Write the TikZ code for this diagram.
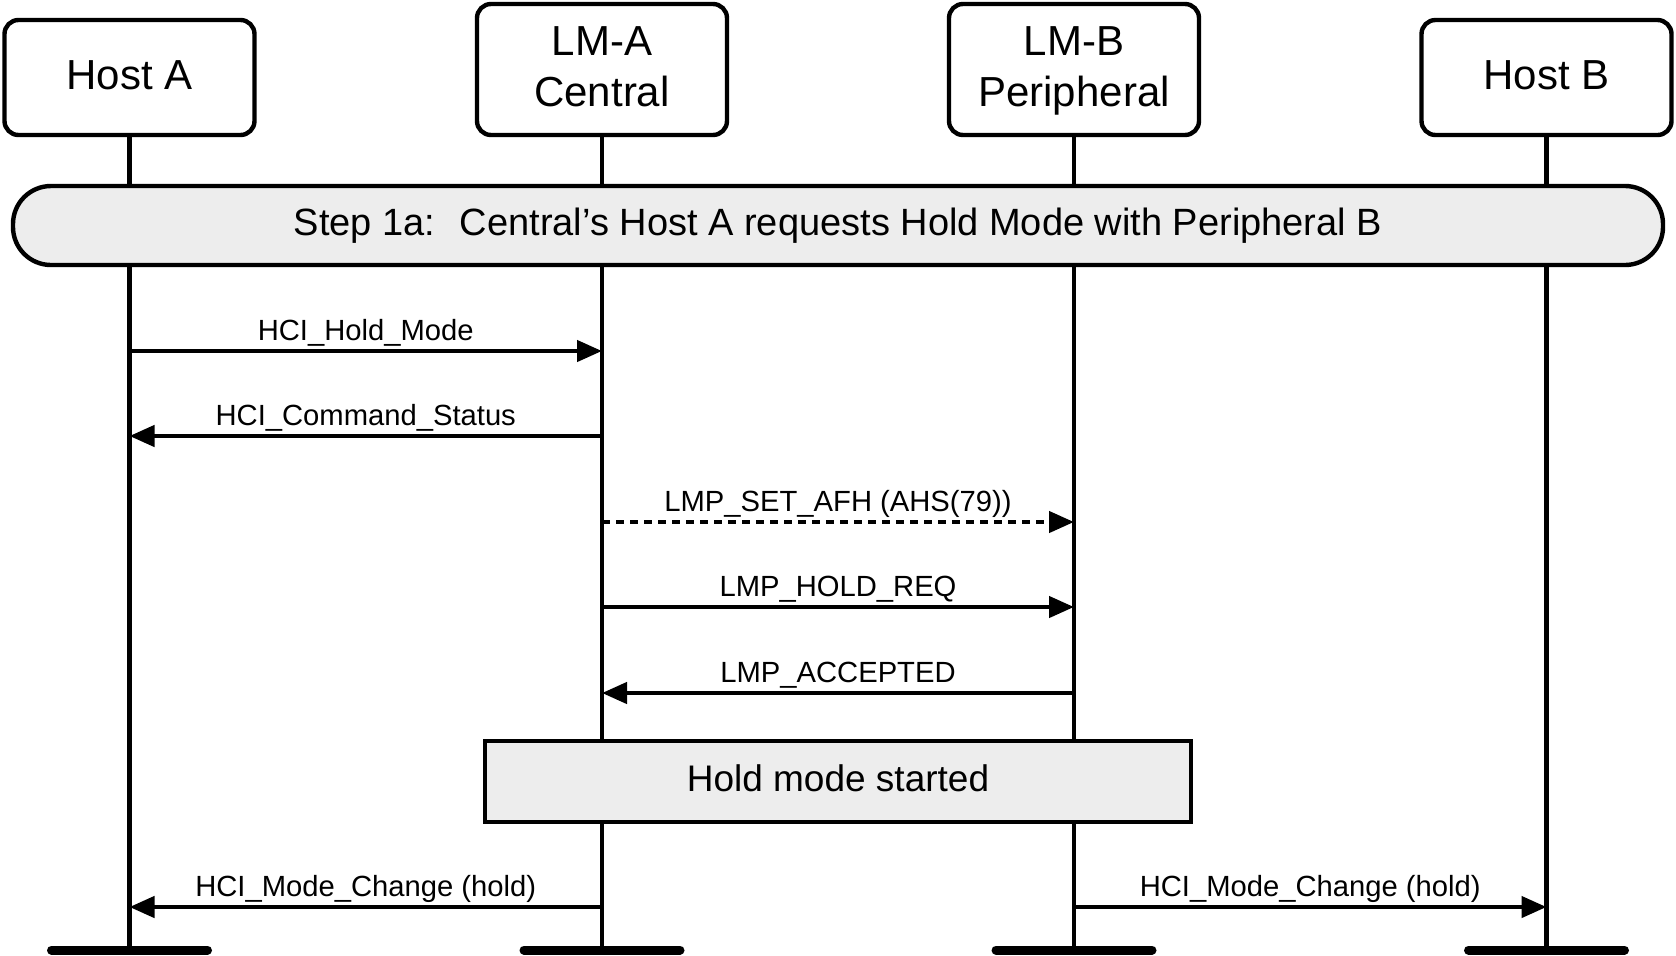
\documentclass[tikz,border=0pt]{standalone}
\usepackage{fontspec}
\setmainfont{Liberation Sans}
\definecolor{boxgray}{RGB}{237, 237, 237}
\usetikzlibrary{arrows.meta, positioning}

\begin{document}
\begin{tikzpicture}[
  x=0.5pt, y=-0.5pt,
  party/.style={draw, line width=2.2pt, rounded corners=7pt, minimum width=125pt, align=center, inner sep=0pt, outer sep=0pt, text depth=2.5pt, font=\fontsize{21}{25.5}\selectfont},
  life/.style={line width=2.2pt},
  msg/.style={line width=2.2pt, -{Triangle[length=12.5pt, width=10.5pt]}},
  lbl/.style={anchor=base, yshift=5.5pt, font=\fontsize{14.6}{16}\selectfont},
  endbar/.style={line width=4.5pt, line cap=round}
]
  \useasboundingbox (0,0) rectangle (1676,955);
  \node[party, minimum height=57.5pt] (hostA) at (129.5, 77.5) {Host A};
  \node[party, minimum height=65.5pt] (lmA) at (602, 69.5) {LM-A\\Central};
  \node[party, minimum height=65.5pt] (lmB) at (1074, 69.5) {LM-B\\Peripheral};
  \node[party, minimum height=57.5pt] (hostB) at (1546.5, 77.5) {Host B};
  \coordinate (bot) at (0, 950);
  \foreach \p in {hostA, lmA, lmB, hostB}
    \draw[life] (\p.south) -- (\p |- bot);
  \node[draw, line width=2.2pt, fill=boxgray, rounded corners=19pt, minimum width=825pt, minimum height=39.5pt, font=\fontsize{19}{22}\selectfont] (step) at (838, 225.5) {Step 1a:~ Central’s Host A requests Hold Mode with Peripheral B};
  \node[draw, line width=2.2pt, fill=boxgray, minimum width=353pt, minimum height=40.5pt, text depth=3pt, font=\fontsize{18.5}{22}\selectfont] (hold) at (838, 781.5) {Hold mode started};
  \coordinate (m1) at (0, 351);
  \coordinate (m2) at (0, 436);
  \coordinate (m3) at (0, 522);
  \coordinate (m4) at (0, 607);
  \coordinate (m5) at (0, 693);
  \coordinate (m6) at (0, 907);
  \draw[msg] (hostA |- m1) -- (lmA |- m1) node[lbl, midway] {HCI\_Hold\_Mode};
  \draw[msg] (lmA |- m2) -- (hostA |- m2) node[lbl, midway] {HCI\_Command\_Status};
  \draw[msg, dash pattern=on 4pt off 3pt] (lmA |- m3) -- (lmB |- m3) node[lbl, midway] {LMP\_SET\_AFH (AHS(79))};
  \draw[msg] (lmA |- m4) -- (lmB |- m4) node[lbl, midway] {LMP\_HOLD\_REQ};
  \draw[msg] (lmB |- m5) -- (lmA |- m5) node[lbl, midway] {LMP\_ACCEPTED};
  \draw[msg] (lmA |- m6) -- (hostA |- m6) node[lbl, midway] {HCI\_Mode\_Change (hold)};
  \draw[msg] (lmB |- m6) -- (hostB |- m6) node[lbl, midway] {HCI\_Mode\_Change (hold)};
  \foreach \p in {hostA, lmA, lmB, hostB}
    \draw[endbar] (\p |- bot) ++(-78, 0) -- ++(156, 0);
\end{tikzpicture}
\end{document}
